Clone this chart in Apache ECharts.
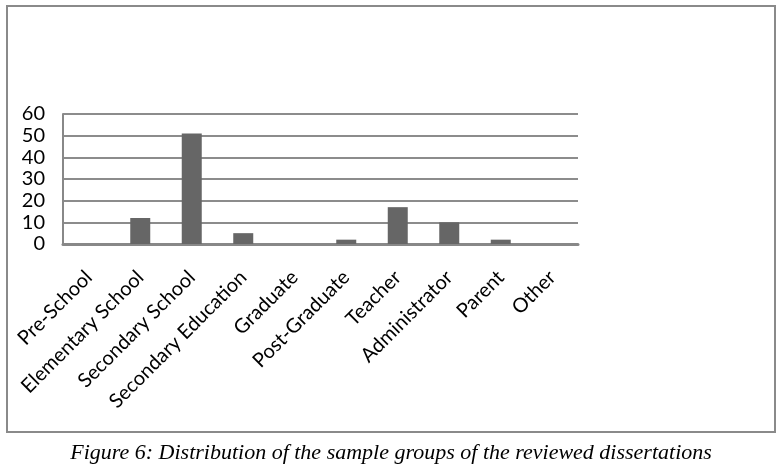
<!DOCTYPE html>
<html><head><meta charset="utf-8">
<script src="https://cdn.jsdelivr.net/npm/echarts@6/dist/echarts.min.js"></script>
<style>html,body{margin:0;padding:0;background:#fff}#c{width:782px;height:471px}</style>
</head><body><div id="c"></div>
<script>
const categories = ["Pre-School","Elementary School","Secondary School","Secondary Education","Graduate","Post-Graduate","Teacher","Administrator","Parent","Other"];
const values = [0,12,51,5,0,2,17,10,2,0];
const yTicks = {min:0,max:60,interval:10};
const caption = "Figure 6: Distribution of the sample groups of the reviewed dissertations";

const chart = echarts.init(document.getElementById('c'));
chart.setOption({
  animation:false,
  backgroundColor:'#fff',
  title:{text:caption,left:'center',top:437,textStyle:{fontFamily:'Liberation Serif',fontStyle:'italic',fontWeight:'normal',fontSize:22,color:'#000'}},
  graphic:[{type:'rect',shape:{x:7,y:6,width:768,height:426},style:{fill:'none',stroke:'#8a8a8a',lineWidth:2}}],
  grid:{left:63,right:204,top:114,bottom:227},
  xAxis:{type:'category',data:categories,
    axisLine:{lineStyle:{color:'#888',width:3}},axisTick:{show:false},
    axisLabel:{rotate:45,interval:0,margin:30,fontFamily:'Lato',fontSize:20,color:'#000'}},
  yAxis:{type:'value',min:yTicks.min,max:yTicks.max,interval:yTicks.interval,
    axisLine:{show:true,lineStyle:{color:'#888',width:2}},axisTick:{show:false},
    splitLine:{lineStyle:{color:'#8c8c8c',width:2}},
    axisLabel:{margin:18,fontFamily:'Lato',fontSize:20,color:'#000'}},
  series:[{type:'bar',data:values,barWidth:20,itemStyle:{color:'#666'}}]
});
</script></body></html>
